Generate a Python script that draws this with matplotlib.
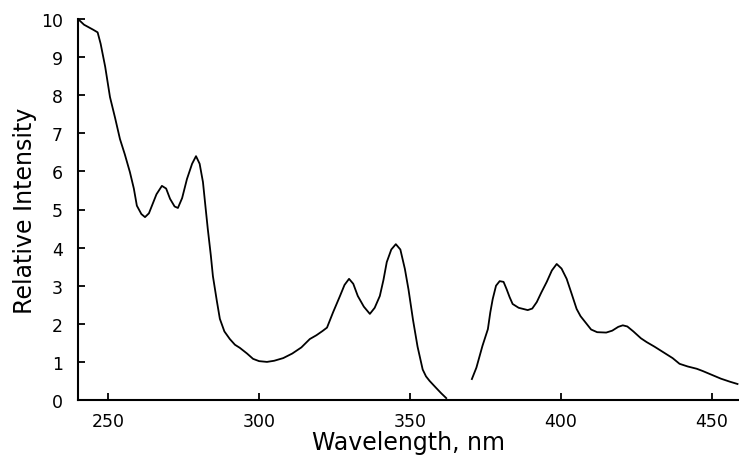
import matplotlib
matplotlib.use("Agg")
import matplotlib.pyplot as plt

# Segment 1 (excitation-like band)
wl1 = [240.0, 242.0, 245.0, 246.5, 247.5, 249.0, 250.6, 252.3, 253.9, 255.5, 257.2, 258.5,
       259.5, 261.0, 262.2, 263.5, 264.5, 266.0, 267.8, 269.2, 270.5, 272.0, 273.1, 274.5,
       276.1, 277.8, 279.1, 280.3, 281.4, 282.2, 283.0, 284.0, 284.7, 286.0, 287.0, 288.5,
       290.3, 292.0, 293.6, 296.0, 298.0, 300.0, 302.6, 305.0, 308.0, 311.0, 314.0, 316.8,
       319.0, 321.0, 322.5, 324.5, 326.8, 328.3, 329.8, 331.2, 332.7, 334.7, 336.7, 338.3,
       340.0, 341.2, 342.3, 343.8, 345.3, 346.8, 348.3, 349.5, 351.0, 352.5, 354.2, 355.3,
       356.5, 358.5, 360.3, 362.0]
int1 = [10.0, 9.85, 9.72, 9.65, 9.35, 8.75, 7.95, 7.4, 6.85, 6.45, 5.98, 5.55,
        5.1, 4.88, 4.8, 4.9, 5.1, 5.4, 5.62, 5.55, 5.28, 5.08, 5.04, 5.3,
        5.8, 6.2, 6.4, 6.2, 5.72, 5.1, 4.49, 3.8, 3.25, 2.6, 2.13, 1.8,
        1.6, 1.45, 1.37, 1.22, 1.08, 1.02, 1.0, 1.03, 1.1, 1.22, 1.38, 1.6,
        1.7, 1.81, 1.9, 2.3, 2.73, 3.02, 3.18, 3.05, 2.73, 2.45, 2.26, 2.42,
        2.73, 3.15, 3.62, 3.95, 4.09, 3.95, 3.44, 2.9, 2.1, 1.4, 0.8, 0.62,
        0.5, 0.33, 0.18, 0.05]

# Segment 2 (emission-like band)
wl2 = [370.5, 372.0, 374.0, 375.8, 376.6, 377.4, 378.5, 379.7, 381.0, 382.0, 383.0, 384.0,
       386.0, 389.0, 390.5, 392.0, 393.5, 395.3, 397.0, 398.6, 400.2, 401.9, 403.5, 405.2,
       406.5, 408.5, 410.0, 412.0, 415.0, 417.0, 419.0, 420.5, 422.0, 424.0, 426.5, 428.4,
       431.0, 434.0, 437.0, 439.3, 442.0, 445.0, 447.0, 450.0, 453.0, 456.0, 458.5]
int2 = [0.55, 0.85, 1.42, 1.86, 2.3, 2.65, 3.0, 3.12, 3.1, 2.91, 2.7, 2.52,
        2.42, 2.36, 2.4, 2.57, 2.82, 3.1, 3.4, 3.57, 3.45, 3.18, 2.8, 2.39,
        2.2, 2.0, 1.85, 1.78, 1.77, 1.82, 1.92, 1.96, 1.93, 1.8, 1.62, 1.52,
        1.4, 1.25, 1.1, 0.95, 0.88, 0.82, 0.76, 0.66, 0.56, 0.48, 0.42]

xticks = [250, 300, 350, 400, 450]
yticks = [0, 1, 2, 3, 4, 5, 6, 7, 8, 9, 10]

fig = plt.figure(figsize=(7.39, 4.60), dpi=100)
ax = fig.add_axes([78 / 739, 59 / 460, 661 / 739, 381 / 460])

ax.plot(wl1, int1, color="black", lw=1.3)
ax.plot(wl2, int2, color="black", lw=1.3)

ax.set_xlim(240, 459)
ax.set_ylim(0, 10)
ax.set_xticks(xticks)
ax.set_yticks(yticks)
ax.set_xticklabels([str(t) for t in xticks])
ax.set_yticklabels([str(t) for t in yticks])

for s in ["top", "right"]:
    ax.spines[s].set_visible(False)
for s in ["left", "bottom"]:
    ax.spines[s].set_linewidth(1.5)

ax.tick_params(direction="in", length=5, width=1.3, labelsize=12.5)
ax.tick_params(axis="x", pad=9)
ax.tick_params(axis="y", pad=11)
ax.set_xlabel("Wavelength, nm", fontsize=17, labelpad=0)
ax.set_ylabel("Relative Intensity", fontsize=17, labelpad=3)

fig.savefig("out.png", dpi=100)
